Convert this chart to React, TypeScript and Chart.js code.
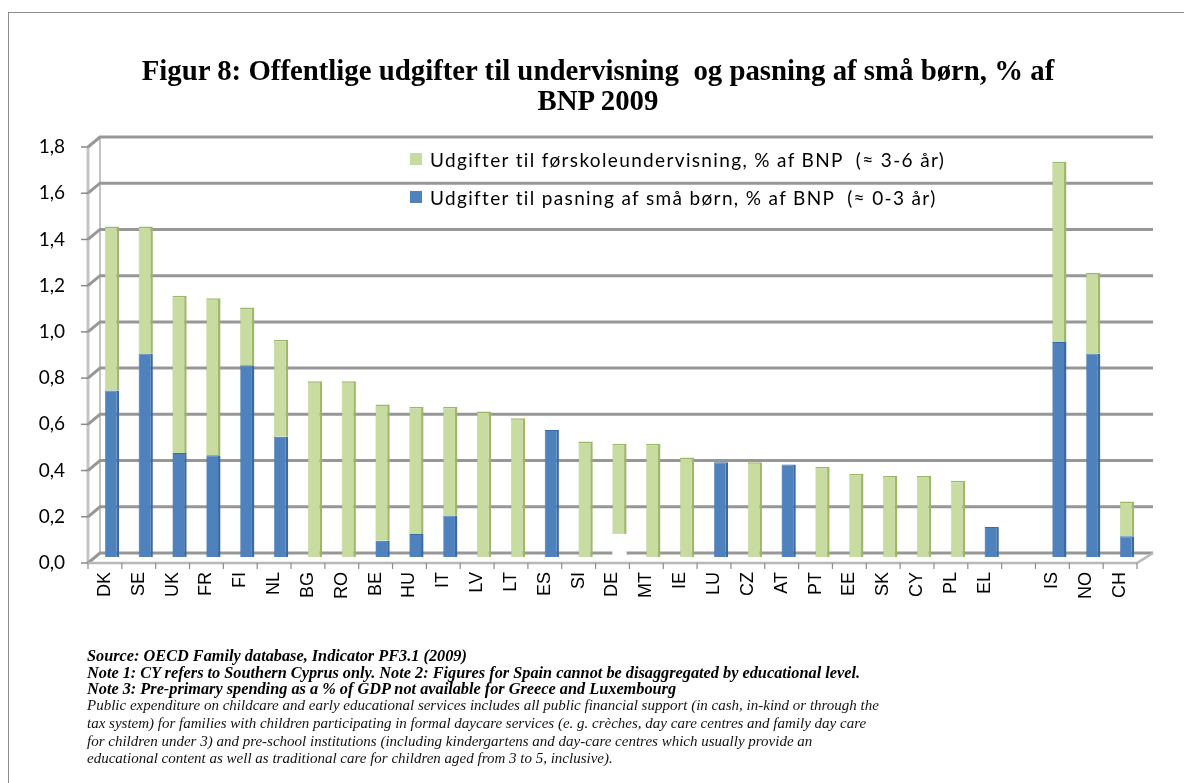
import React, { useEffect, useRef } from "react";
import { Chart, registerables } from "chart.js";

Chart.register(...registerables);

// ---------- data ----------
const countries = [
  "DK", "SE", "UK", "FR", "FI", "NL", "BG", "RO", "BE", "HU", "IT", "LV", "LT", "ES", "SI", "DE",
  "MT", "IE", "LU", "CZ", "AT", "PT", "EE", "SK", "CY", "PL", "EL", "", "IS", "NO", "CH",
];
// Udgifter til pasning af små børn (≈ 0-3 år), blue
const childcare = [
  0.72, 0.88, 0.45, 0.44, 0.83, 0.52, null, null, 0.07, 0.1, 0.18, null, null, 0.55, null, null,
  null, null, 0.41, null, 0.4, null, null, null, null, null, 0.13, null, 0.93, 0.88, 0.09,
];
// unlabelled white segment (DE)
const unlabelled = [
  null, null, null, null, null, null, null, null, null, null, null, null, null, null, null, 0.1,
  null, null, null, null, null, null, null, null, null, null, null, null, null, null, null,
];
// Udgifter til førskoleundervisning (≈ 3-6 år), green
const preschool = [
  0.71, 0.55, 0.68, 0.68, 0.25, 0.42, 0.76, 0.76, 0.59, 0.55, 0.47, 0.63, 0.6, null, 0.5, 0.39,
  0.49, 0.43, null, 0.41, null, 0.39, 0.36, 0.35, 0.35, 0.33, null, null, 0.78, 0.35, 0.15,
];
const yMin = 0;
const yMax = 1.8;
const yStep = 0.2;

const titleLines = [
  "Figur 8: Offentlige udgifter til undervisning  og pasning af små børn, % af",
  "BNP 2009",
];
const preschoolLabel = "Udgifter til førskoleundervisning, % af BNP  (≈ 3-6 år)";
const childcareLabel = "Udgifter til pasning af små børn, % af BNP  (≈ 0-3 år)";
const sourceLines = [
  "Source: OECD Family database, Indicator PF3.1 (2009)",
  "Note 1: CY refers to Southern Cyprus only. Note 2: Figures for Spain cannot be disaggregated by educational level.",
  "Note 3: Pre-primary spending as a % of GDP not available for Greece and Luxembourg",
];
const descriptionLines = [
  "Public expenditure on childcare and early educational services includes all public financial support (in cash, in-kind or through the",
  "tax system) for families with children participating in formal daycare services (e. g. crèches, day care centres and family day care",
  "for children under 3) and pre-school institutions (including kindergartens and day-care centres which usually provide an",
  "educational content as well as traditional care for children aged from 3 to 5, inclusive).",
];

const BLUE = "#4F81BD";
const BLUE_EDGE = "#3A6AA3";
const GREEN = "#C8DBA0";
const GREEN_EDGE = "#9DB868";

const SHIFT = 7; // bars sit slightly behind/right of the front axis (3D look)

const frame3d = {
  id: "frame3d",
  beforeDatasetsDraw(chart: any) {
    const { ctx, chartArea: a, scales } = chart;
    const x = scales.x;
    const y = scales.y;
    const fx = a.left - SHIFT;
    const bx = a.left + 5;
    ctx.save();
    const top = y.getPixelForValue(yMax);
    const bot = y.getPixelForValue(yMin);
    ctx.strokeStyle = "#c4c4c4";
    ctx.lineWidth = 3;
    ctx.beginPath();
    ctx.moveTo(fx, top + 6);
    ctx.lineTo(fx, bot + 6);
    ctx.stroke();
    ctx.lineWidth = 2;
    ctx.beginPath();
    ctx.moveTo(bx, top - 4);
    ctx.lineTo(bx, bot - 4);
    ctx.stroke();
    y.ticks.forEach((t: any) => {
      const py = y.getPixelForValue(t.value);
      const by = py - 4;
      const fy = py + 6;
      ctx.strokeStyle = "#979797";
      ctx.lineWidth = 3;
      ctx.beginPath();
      ctx.moveTo(fx, fy);
      ctx.lineTo(bx, by);
      ctx.lineTo(a.right + 9, by);
      ctx.stroke();
      ctx.strokeStyle = "#8a8a8a";
      ctx.lineWidth = 1.5;
      ctx.beginPath();
      ctx.moveTo(fx - 7, fy);
      ctx.lineTo(fx, fy);
      ctx.stroke();
    });
    const f0 = bot + 6;
    const rightFront = x.getPixelForValue(countries.length - 0.5) - SHIFT;
    ctx.strokeStyle = "#b8b8b8";
    ctx.lineWidth = 2.5;
    ctx.beginPath();
    ctx.moveTo(fx, f0);
    ctx.lineTo(rightFront, f0);
    ctx.lineTo(a.right + 9, bot - 4);
    ctx.stroke();
    ctx.strokeStyle = "#8c8c8c";
    ctx.lineWidth = 1.2;
    for (let i = 0; i <= countries.length; i++) {
      const px = x.getPixelForValue(i - 0.5) - SHIFT;
      ctx.beginPath();
      ctx.moveTo(px, f0);
      ctx.lineTo(px, f0 + 6);
      ctx.stroke();
    }
    ctx.restore();
  },
};

function ChartCanvas() {
  const ref = useRef<HTMLCanvasElement | null>(null);
  useEffect(() => {
    if (!ref.current) return;
    const common = { barPercentage: 0.42, categoryPercentage: 1, stack: "s" };
    const chart = new Chart(ref.current, {
      type: "bar",
      data: {
        labels: countries,
        datasets: [
          {
            label: childcareLabel,
            data: childcare,
            backgroundColor: BLUE,
            borderColor: BLUE_EDGE,
            borderWidth: { top: 1, right: 2.5, left: 0.5, bottom: 0 },
            ...common,
          },
          {
            label: "",
            data: unlabelled,
            backgroundColor: "#ffffff",
            borderWidth: 0,
            ...common,
          },
          {
            label: preschoolLabel,
            data: preschool,
            backgroundColor: GREEN,
            borderColor: GREEN_EDGE,
            borderWidth: { top: 1.5, right: 2.5, left: 0.5, bottom: 0 },
            ...common,
          },
        ],
      },
      options: {
        animation: false,
        responsive: false,
        maintainAspectRatio: false,
        layout: { padding: { left: 0, right: 40, top: 141, bottom: 166 } },
        plugins: {
          legend: { display: false },
          tooltip: { enabled: false },
          title: { display: false },
        },
        scales: {
          x: {
            stacked: true,
            grid: { display: false, drawTicks: false },
            border: { display: false },
            ticks: {
              autoSkip: false,
              maxRotation: 90,
              minRotation: 90,
              padding: 15,
              labelOffset: -SHIFT,
              color: "#000",
              font: { family: "Liberation Sans", size: 18 },
            },
            afterFit: (s: any) => {
              s.height = 60;
            },
          },
          y: {
            stacked: true,
            min: yMin,
            max: yMax,
            grid: { display: false, drawTicks: false },
            border: { display: false },
            ticks: {
              stepSize: yStep,
              padding: 30,
              labelOffset: 6,
              color: "#000",
              font: { family: "Lato", size: 19 },
              callback: (v: any) => Number(v).toFixed(1).replace(".", ","),
            },
            afterFit: (s: any) => {
              s.width = 95;
            },
          },
        },
      },
      plugins: [frame3d],
    });
    return () => chart.destroy();
  }, []);
  return (
    <canvas
      ref={ref}
      width={1184}
      height={783}
      style={{ position: "absolute", left: 0, top: 0, width: 1184, height: 783 }}
    />
  );
}

export default function App() {
  const legendItems = [
    { label: preschoolLabel, color: GREEN },
    { label: childcareLabel, color: BLUE },
  ];
  return (
    <div
      style={{
        position: "fixed",
        left: 0,
        top: 0,
        width: 1184,
        height: 783,
        overflow: "hidden",
        background: "#fff",
      }}
    >
      <div
        style={{
          position: "absolute",
          left: 8,
          top: 12,
          width: 1200,
          height: 800,
          border: "1px solid #8d8d8d",
        }}
      />
      <ChartCanvas />
      <div
        style={{
          position: "absolute",
          left: 0,
          top: 55,
          width: 1196,
          textAlign: "center",
          fontFamily: "Liberation Serif",
          fontWeight: "bold",
          fontSize: 28.8,
          lineHeight: "30px",
          whiteSpace: "pre",
          color: "#000",
        }}
      >
        {titleLines.map((l, i) => (
          <div key={i}>{l}</div>
        ))}
      </div>
      <div style={{ position: "absolute", left: 410, top: 140 }}>
        {legendItems.map((it, i) => (
          <div
            key={i}
            style={{
              display: "flex",
              alignItems: "center",
              height: 38,
              fontFamily: "Lato",
              fontSize: 19,
              letterSpacing: "1.35px",
              whiteSpace: "pre",
              color: "#000",
            }}
          >
            <span
              style={{ display: "inline-block", width: 12, height: 12, background: it.color, marginRight: 8 }}
            />
            {it.label}
          </div>
        ))}
      </div>
      <div
        style={{
          position: "absolute",
          left: 87,
          top: 648,
          fontFamily: "Liberation Serif",
          fontStyle: "italic",
          fontWeight: "bold",
          fontSize: 16.3,
          lineHeight: "16.5px",
          whiteSpace: "pre",
          color: "#000",
        }}
      >
        {sourceLines.map((l, i) => (
          <div key={i}>{l}</div>
        ))}
      </div>
      <div
        style={{
          position: "absolute",
          left: 87,
          top: 697,
          fontFamily: "Liberation Serif",
          fontStyle: "italic",
          fontSize: 15,
          lineHeight: "17.8px",
          whiteSpace: "pre",
          color: "#111",
        }}
      >
        {descriptionLines.map((l, i) => (
          <div key={i}>{l}</div>
        ))}
      </div>
    </div>
  );
}
